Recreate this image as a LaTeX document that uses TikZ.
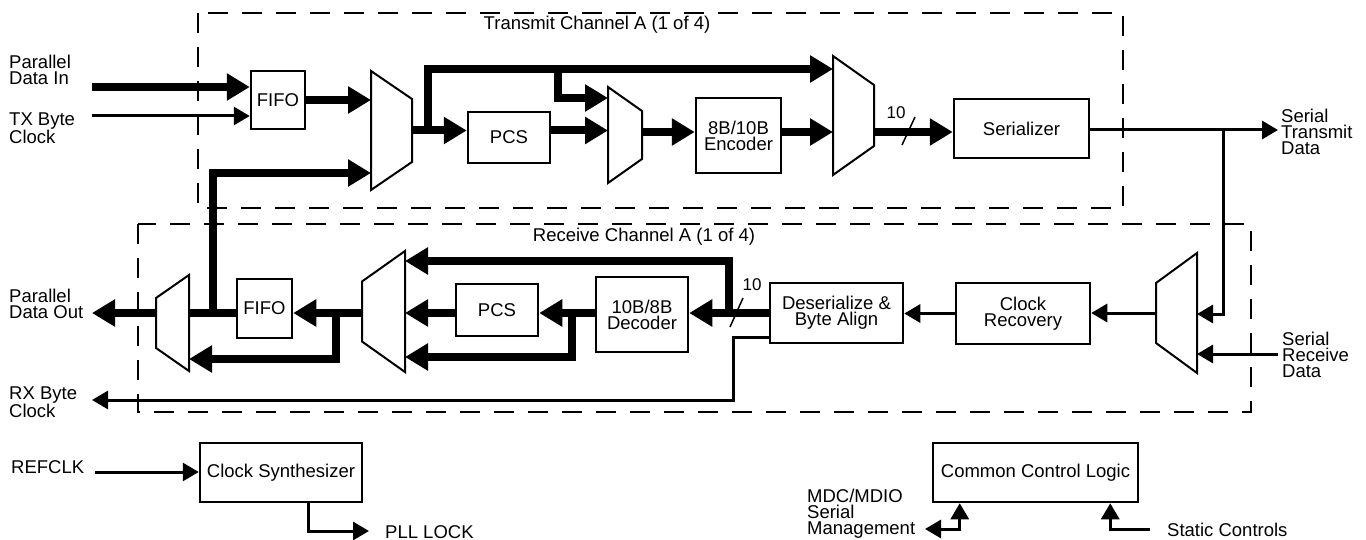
\documentclass[tikz,border=0pt]{standalone}
\usepackage{fontspec}
\setmainfont{Liberation Sans}
\usetikzlibrary{arrows.meta,positioning}

% mux outline: name, left x, right x, centre y, half height left, half height right
\newcommand{\muxshape}[6]{%
	\draw[muxline] (#2,{#4-#5}) -- (#3,{#4-#6}) -- (#3,{#4+#6}) -- (#2,{#4+#5}) -- cycle;
	\coordinate (#1-w) at (#2,#4);
	\coordinate (#1-e) at (#3,#4);
}

\begin{document}
\begin{tikzpicture}[x=1pt,y=-1pt,
	bus/.style={line width=8pt},
	wire/.style={line width=3pt},
	bustip/.style={-{Triangle[length=23pt,width=26pt]}},
	wiretip/.style={-{Triangle[length=16pt,width=18pt]}},
	blk/.style={draw,line width=2.5pt,inner sep=0pt,align=center,font=\fontsize{18.5}{16}\selectfont},
	lbl/.style={inner sep=0pt,align=left,font=\fontsize{18.5}{16}\selectfont},
	chan/.style={line width=1.5pt,dash pattern=on 20pt off 14pt},
	muxline/.style={line width=2pt}]
	\fill[white] (0,0) rectangle (1366,540);
	\useasboundingbox (0,0) rectangle (1366,540);

	% channel outlines
	\draw[chan] (198,13) rectangle (1123,208);
	\draw[chan] (138,224) rectangle (1251,412);
	\node[lbl] (txtitle) at (597,25) {Transmit Channel A (1 of 4)};
	\node[lbl] (rxtitle) at (644,237) {Receive Channel A (1 of 4)};

	% blocks
	\node[blk,minimum width=54pt,minimum height=58pt] (txfifo) at (278,100) {FIFO};
	\node[blk,minimum width=82pt,minimum height=51pt] (txpcs) at (509,137.5) {PCS};
	\node[blk,minimum width=85pt,minimum height=75pt] (enc) at (738.5,135.5) {8B/10B\\Encoder};
	\node[blk,minimum width=135pt,minimum height=59pt] (ser) at (1021.5,128.5) {Serializer};
	\node[blk,minimum width=134pt,minimum height=61pt] (clkrec) at (1023,313.5) {Clock\\Recovery};
	\node[blk,minimum width=133pt,minimum height=60pt] (deser) at (836.5,313) {Deserialize \&\\Byte Align};
	\node[blk,minimum width=92pt,minimum height=75pt] (dec) at (642,314.5) {10B/8B\\Decoder};
	\node[blk,minimum width=82pt,minimum height=52pt] (rxpcs) at (497,310) {PCS};
	\node[blk,minimum width=55pt,minimum height=59pt] (rxfifo) at (264.5,308.5) {FIFO};
	\node[blk,minimum width=162pt,minimum height=59pt] (synth) at (281,472.5) {Clock Synthesizer};
	\node[blk,minimum width=205pt,minimum height=59pt] (ccl) at (1035.5,472.5) {Common Control Logic};

	\muxshape{mxa}{371}{412}{130.5}{59.5}{31.5}
	\muxshape{mxb}{608}{642}{135}{48}{24}
	\muxshape{mxc}{833}{874}{115.5}{59.5}{30.5}
	\muxshape{mxd}{1156}{1197}{313}{30}{60}
	\muxshape{mxe}{362}{405}{311.5}{30}{60.5}
	\muxshape{mxf}{156}{189}{323}{25}{48}

	% outside labels
	\node[lbl,anchor=west] (pdin) at (9,70) {Parallel\\Data In};
	\node[lbl,anchor=west] (txclk) at (9,128) {TX Byte\\Clock};
	\node[lbl,anchor=west] (pdout) at (9,304) {Parallel\\Data Out};
	\node[lbl,anchor=west] (rxclk) at (9,402) {RX Byte\\Clock};
	\node[lbl,anchor=west] (refclk) at (11,467.5) {REFCLK};
	\node[lbl,anchor=west] (plllock) at (385,532) {PLL LOCK};
	\node[lbl,anchor=west] (stxd) at (1281,132) {Serial\\Transmit\\Data};
	\node[lbl,anchor=west] (srxd) at (1282,354.5) {Serial\\Receive\\Data};
	\node[lbl,anchor=west] (mdio) at (807,514) {MDC/MDIO\\Serial\\Management};
	\node[lbl,anchor=west] (static) at (1167,530) {Static Controls};

	% transmit path
	\coordinate (dinl) at (92,87);
	\coordinate (txck) at (92,116);
	\coordinate (txlvl) at (0,132);
	\coordinate (tapa) at (428,130.5);
	\coordinate (topbus) at (428,69);
	\coordinate (tapb) at (558,69);
	\coordinate (mxb-in1) at (608,98);
	\coordinate (mxa-in3) at (371,173);
	\draw[bus,bustip] (dinl) -- (dinl -| txfifo.west);
	\draw[wire,wiretip] (txck) -- (txck -| txfifo.west);
	\draw[bus,bustip] (txfifo) -- (txfifo -| mxa-w);
	\draw[bus,bustip] (mxa-e) -- (mxa-e -| txpcs.west);
	\draw[bus,bustip] (tapa) |- (topbus -| mxc-w);
	\draw[bus,bustip] (tapb) |- (mxb-in1);
	\draw[bus,bustip] (txpcs.east |- mxa-e) -- (mxb-w |- mxa-e);
	\draw[bus,bustip] (mxb-e |- txlvl) -- (enc.west |- txlvl);
	\draw[bus,bustip] (enc.east |- txlvl) -- (mxc-w |- txlvl);
	\draw[bus,bustip] (mxc-e |- txlvl) -- (ser.west |- txlvl);
	\draw[line width=1.5pt] (902,145) -- (915,117);
	\node[lbl,font=\fontsize{17}{15}\selectfont] (txw) at (896,113) {10};

	\coordinate (stx) at (1278,130);
	\coordinate (tapc) at (1223,130);
	\coordinate (mxd-in1) at (1197,314);
	\coordinate (srx) at (1278,354);
	\draw[wire,wiretip] (ser.east |- stx) -- (stx);
	\draw[wire,wiretip] (tapc) |- (mxd-in1);
	\draw[wire,wiretip] (srx) -- (srx -| mxd-e);

	% receive path
	\coordinate (tapd) at (729,313);
	\coordinate (mxe-in1) at (405,261);
	\coordinate (tape) at (572,313);
	\coordinate (mxe-in3) at (405,357);
	\coordinate (tapf) at (336,313);
	\coordinate (mxf-in2) at (189,359);
	\coordinate (tapg) at (213,313);
	\coordinate (pdoutr) at (92,313);
	\draw[wire,wiretip] (mxd-w) -- (mxd-w -| clkrec.east);
	\draw[wire,wiretip] (clkrec) -- (clkrec -| deser.east);
	\draw[bus,bustip] (deser) -- (deser -| dec.east);
	\draw[line width=1.5pt] (730,327) -- (743,298);
	\node[lbl,font=\fontsize{17}{15}\selectfont] (rxw) at (752,285) {10};
	\draw[bus,bustip] (tapd) |- (mxe-in1);
	\draw[bus,bustip] (dec.west |- deser) -- (rxpcs.east |- deser);
	\draw[bus,bustip] (tape) |- (mxe-in3);
	\draw[bus,bustip] (rxpcs.west |- deser) -- (mxe-e |- deser);
	\draw[bus,bustip] (mxe-w |- deser) -- (rxfifo.east |- deser);
	\draw[bus,bustip] (tapf) |- (mxf-in2);
	\draw[bus] (rxfifo.west |- deser) -- (mxf-e |- deser);
	\draw[bus,bustip] (tapg) |- (mxa-in3);
	\draw[bus,bustip] (mxf-w |- deser) -- (pdoutr);

	\coordinate (rxbend) at (733,400);
	\coordinate (rxck) at (92,400);
	\draw[wire,wiretip] ([yshift=7pt]deser.south west) -| (rxbend) -- (rxck);

	% clocks and control
	\coordinate (refck) at (95,472);
	\coordinate (pll) at (369,531);
	\coordinate (mdc) at (925,529);
	\coordinate (stc) at (1150,529);
	\draw[wire,wiretip] (refck) -- (refck -| synth.west);
	\draw[wire,wiretip] ([xshift=27pt]synth.south) |- (pll);
	\draw[wire,{Triangle[length=16pt,width=18pt]}-{Triangle[length=16pt,width=18pt]}] (mdc) -| ([xshift=28pt]ccl.south west);
	\draw[wire,wiretip] (stc) -| ([xshift=-29pt]ccl.south east);
\end{tikzpicture}
\end{document}
